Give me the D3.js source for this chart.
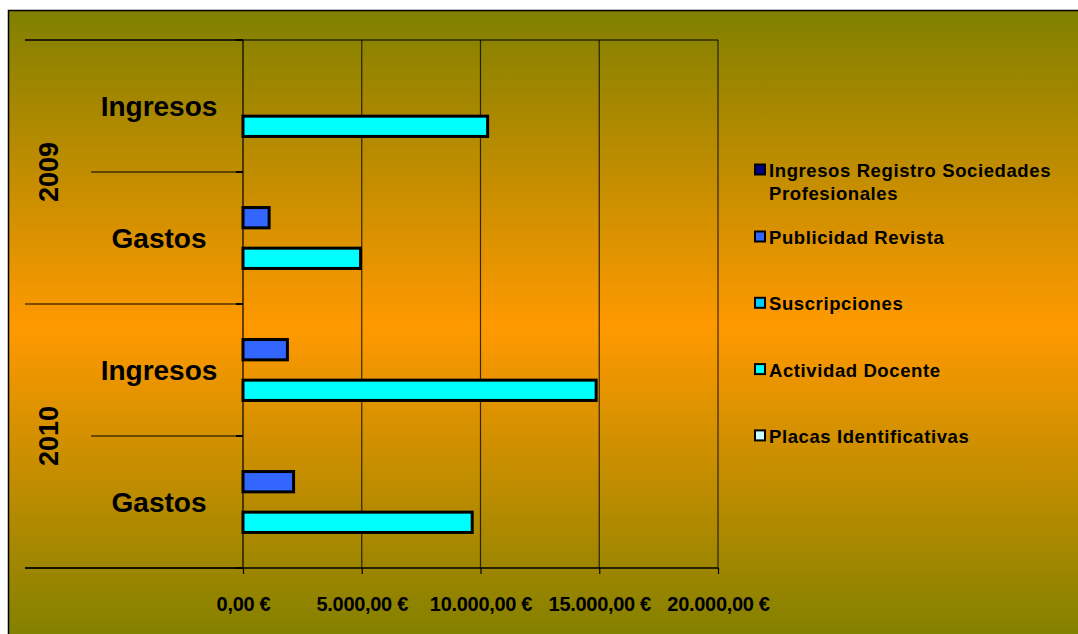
<!DOCTYPE html>
<html>
<head>
<meta charset="utf-8">
<script src="https://cdn.jsdelivr.net/npm/d3@7"></script>
<style>
  html, body { margin: 0; padding: 0; background: #ffffff; }
  svg { display: block; font-family: "Liberation Sans", Arial, sans-serif; }
</style>
</head>
<body>
<svg id="chart" width="1078" height="634"></svg>
<script>
// ---- data ----
const categories = ["Ingresos", "Gastos", "Ingresos", "Gastos"];
const years = ["2009", "2010"];
const categoryYears = ["2009", "2009", "2010", "2010"];
const seriesNames = [
  "Ingresos Registro Sociedades Profesionales",
  "Publicidad Revista",
  "Suscripciones",
  "Actividad Docente",
  "Placas Identificativas"
];
const seriesColors = ["#000080", "#3366FF", "#00CCFF", "#00FFFF", "#CCFFFF"];
const ingresosRegistro = [0, 0, 0, 0];
const publicidadRevista = [0, 1100, 1870, 2130];
const suscripciones = [0, 0, 0, 0];
const actividadDocente = [10300, 4950, 14870, 9650];
const placasIdentificativas = [0, 0, 0, 0];
const xTicks = [0, 5000, 10000, 15000, 20000];

const seriesValues = [ingresosRegistro, publicidadRevista, suscripciones, actividadDocente, placasIdentificativas];

// ---- layout ----
const svg = d3.select("#chart");
const plot = { left: 243, right: 718, top: 40, bottom: 568 };

const defs = svg.append("defs");
const grad = defs.append("linearGradient").attr("id", "bg")
  .attr("x1", 0).attr("y1", 0).attr("x2", 0).attr("y2", 1);
grad.append("stop").attr("offset", "0%").attr("stop-color", "#808000");
grad.append("stop").attr("offset", "50%").attr("stop-color", "#FF9900");
grad.append("stop").attr("offset", "100%").attr("stop-color", "#808000");

svg.append("rect")
  .attr("x", 8.5).attr("y", 10.5).attr("width", 1080).attr("height", 632)
  .attr("fill", "url(#bg)").attr("stroke", "#000").attr("stroke-width", 1.5);

const x = d3.scaleLinear().domain([0, 20000]).range([plot.left, plot.right]);
const yCat = d3.scaleBand().domain(d3.range(categories.length)).range([plot.top, plot.bottom]).padding(0);
const ySer = d3.scaleBand().domain(d3.range(seriesNames.length)).range([0, yCat.bandwidth()])
  .paddingInner(0).paddingOuter(0.75);

// gridlines
svg.append("g").selectAll("line").data(xTicks).join("line")
  .attr("x1", d => x(d)).attr("x2", d => x(d))
  .attr("y1", plot.top).attr("y2", plot.bottom)
  .attr("stroke", "#000").attr("stroke-opacity", d => d === 0 ? 1 : 0.75).attr("stroke-width", 1.2);

// top line of plot
svg.append("line").attr("x1", 25).attr("x2", plot.right).attr("y1", plot.top).attr("y2", plot.top)
  .attr("stroke", "#000").attr("stroke-width", 1.2);

// category separators (multi-level axis)
const boundaries = d3.range(categories.length + 1);
svg.append("g").selectAll("line").data(boundaries).join("line")
  .attr("x1", i => {
    if (i === 0 || i === categories.length) return 25;
    return categoryYears[i] !== categoryYears[i - 1] ? 25 : 91;
  })
  .attr("x2", plot.left)
  .attr("y1", i => i < categories.length ? yCat(i) : plot.bottom)
  .attr("y2", i => i < categories.length ? yCat(i) : plot.bottom)
  .attr("stroke", "#000").attr("stroke-width", 1.2);
// small category ticks
svg.append("g").selectAll("line").data(boundaries).join("line")
  .attr("x1", plot.left - 7).attr("x2", plot.left)
  .attr("y1", i => i < categories.length ? yCat(i) : plot.bottom)
  .attr("y2", i => i < categories.length ? yCat(i) : plot.bottom)
  .attr("stroke", "#000").attr("stroke-width", 2);

// bars
const barData = [];
seriesValues.forEach((vals, s) => vals.forEach((v, c) => { if (v > 0) barData.push({ s, c, v }); }));
svg.append("g").selectAll("rect").data(barData).join("rect")
  .attr("x", x(0))
  .attr("y", d => yCat(d.c) + ySer(d.s))
  .attr("width", d => x(d.v) - x(0))
  .attr("height", ySer.bandwidth())
  .attr("fill", d => seriesColors[d.s])
  .attr("stroke", "#000").attr("stroke-width", 3);

// x axis
const locale = d3.formatLocale({ decimal: ",", thousands: ".", grouping: [3], currency: ["", " €"] });
const fmt = locale.format("$,.2f");
const xAxis = svg.append("g").attr("transform", `translate(0,${plot.bottom})`)
  .call(d3.axisBottom(x).tickValues(xTicks).tickFormat(fmt).tickSize(6).tickPadding(23));
xAxis.select(".domain").remove();
xAxis.selectAll(".tick line").attr("stroke", "#000").attr("stroke-width", 1.2);
xAxis.selectAll(".tick text").attr("fill", "#000").attr("font-size", 20).attr("font-weight", "bold")
  .attr("font-family", "'Liberation Sans', Arial, sans-serif").attr("letter-spacing", -0.3);
svg.append("line").attr("x1", 25).attr("x2", plot.right).attr("y1", plot.bottom).attr("y2", plot.bottom)
  .attr("stroke", "#000").attr("stroke-width", 1.5);

// category labels
svg.append("g").selectAll("text").data(categories).join("text")
  .attr("x", 159)
  .attr("y", (d, i) => yCat(i) + yCat.bandwidth() / 2)
  .attr("text-anchor", "middle").attr("dominant-baseline", "central")
  .attr("font-size", 28).attr("font-weight", "bold").attr("fill", "#000")
  .text(d => d);

// year labels
svg.append("g").selectAll("text").data(years).join("text")
  .attr("transform", yr => {
    const idx = categoryYears.map((v, i) => v === yr ? i : -1).filter(i => i >= 0);
    const y0 = yCat(idx[0]);
    const y1 = yCat(idx[idx.length - 1]) + yCat.bandwidth();
    return `translate(49,${(y0 + y1) / 2}) rotate(-90)`;
  })
  .attr("text-anchor", "middle").attr("dominant-baseline", "central")
  .attr("font-size", 27).attr("font-weight", "bold").attr("fill", "#000")
  .text(d => d);

// legend
const legendX = 754;
const legend = svg.append("g");
seriesNames.forEach((name, i) => {
  const cy = i === 0 ? 170 : 237 + (i - 1) * 66.3;
  legend.append("rect")
    .attr("x", legendX + 1).attr("y", cy - 5.5).attr("width", 10).attr("height", 10)
    .attr("fill", seriesColors[i]).attr("stroke", "#000").attr("stroke-width", 2);
  const t = legend.append("text")
    .attr("x", legendX + 15).attr("y", cy)
    .attr("dominant-baseline", "central")
    .attr("font-size", 18.5).attr("font-weight", "bold").attr("fill", "#000")
    .attr("letter-spacing", 0.6);
  // wrap
  const words = name.split(" ");
  let line = [];
  let tspan = t.append("tspan").attr("x", legendX + 15).attr("dy", 0);
  words.forEach(w => {
    line.push(w);
    tspan.text(line.join(" "));
    if (tspan.node().getComputedTextLength() > 300 && line.length > 1) {
      line.pop();
      tspan.text(line.join(" "));
      line = [w];
      tspan = t.append("tspan").attr("x", legendX + 15).attr("dy", 23).text(w);
    }
  });
});
</script>
</body>
</html>
